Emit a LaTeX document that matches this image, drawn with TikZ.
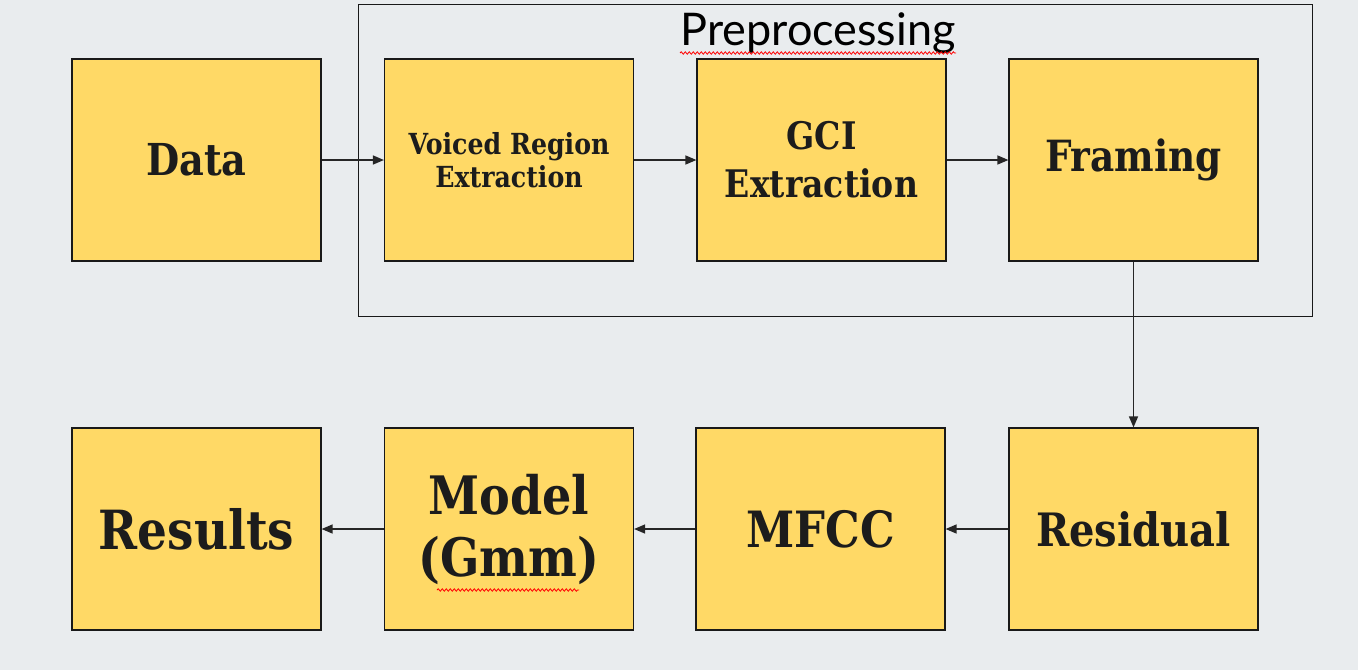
\documentclass[tikz,border=0pt]{standalone}
\usepackage{fontspec}
\usepackage{graphicx}
\setmainfont{DejaVu Serif}
\newfontfamily\latofont{Lato}
\usetikzlibrary{arrows.meta,decorations.pathmorphing}
\definecolor{bgc}{HTML}{E9ECEE}
\definecolor{boxfill}{HTML}{FFD966}
\definecolor{txt}{HTML}{1C1C1C}
\newcommand{\fs}[2]{\fontsize{#1}{#2}\selectfont}
\newcommand{\nx}[1]{\scalebox{0.87}[1]{#1}}
\begin{document}
\begin{tikzpicture}[x=1pt,y=-1pt,
  blk/.style={draw=black!90, line width=1.2pt, fill=boxfill, minimum width=249pt,
    minimum height=202pt, inner sep=0pt, align=center, text=txt, font=\bfseries},
  conn/.style={draw=black!85, line width=1.4pt, -{Triangle[length=11pt,width=9pt]}},
  squig/.style={draw=red, line width=0.8pt, decorate,
    decoration={snake, amplitude=1.2pt, segment length=4pt}}]
\useasboundingbox (0,0) rectangle (1358,670);
\fill[bgc] (0,0) rectangle (1358,670);
\node (pre) [draw=black!90, line width=1.2pt, minimum width=954pt, minimum height=312pt,
  anchor=north west, inner sep=0pt] at (358,4) {};
\node (prelabel) [font=\latofont\fs{45}{50}, text=black, inner sep=0pt] at (818,33) {Preprocessing};
\node (data) [blk, font=\bfseries\fs{44}{50}] at (196.5,160) {\nx{Data}};
\node (voiced) [blk, font=\bfseries\fs{29}{33}] at (509,160) {\nx{Voiced Region}\\\nx{Extraction}};
\node (gci) [blk, font=\bfseries\fs{38}{48}] at (821.5,160) {\nx{GCI}\\\nx{Extraction}};
\node (framing) [blk, font=\bfseries\fs{43}{50}] at (1133.5,160) {\nx{Framing}};
\node (results) [blk, font=\bfseries\fs{54}{60}] at (196.5,529) {\nx{Results}};
\node (model) [blk, font=\bfseries\fs{53}{62}] at (509,529) {\nx{Model}\\\nx{(Gmm)}};
\node (mfcc) [blk, font=\bfseries\fs{50}{56}] at (820.5,529) {\nx{MFCC}};
\node (residual) [blk, font=\bfseries\fs{46}{52}] at (1133.5,529) {\nx{Residual}};
\draw[conn] (data) -- (voiced);
\draw[conn] (voiced) -- (gci);
\draw[conn] (gci) -- (framing);
\draw[conn] (framing) -- (residual);
\draw[conn] (residual) -- (mfcc);
\draw[conn] (mfcc) -- (model);
\draw[conn] (model) -- (results);
\coordinate (sq1a) at (680,53);
\coordinate (sq1b) at (956,53);
\coordinate (sq2a) at (437,590);
\coordinate (sq2b) at (579,590);
\draw[squig] (sq1a) -- (sq1b);
\draw[squig] (sq2a) -- (sq2b);
\end{tikzpicture}
\end{document}
